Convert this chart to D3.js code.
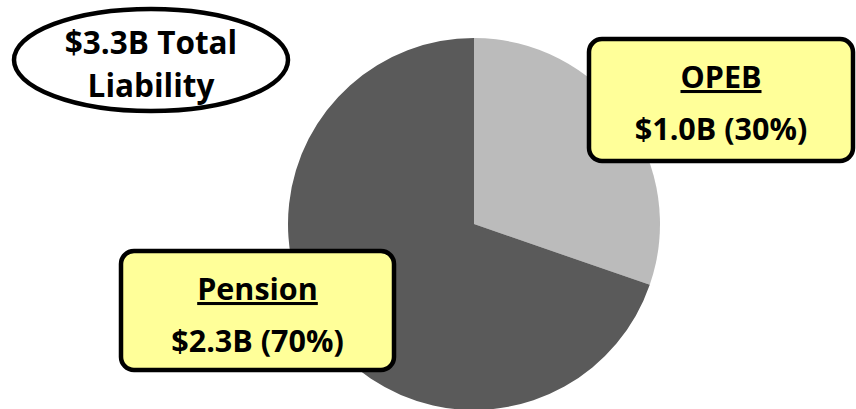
<!DOCTYPE html>
<html>
<head>
<meta charset="utf-8">
<script src="https://cdn.jsdelivr.net/npm/d3@7/dist/d3.min.js"></script>
<style>
  html, body { margin: 0; padding: 0; background: #ffffff; }
  svg { display: block; }
  text { font-family: "Open Sans", "Noto Sans", sans-serif; font-weight: 700; fill: #000; }
</style>
</head>
<body>
<script>
// Liability breakdown, $ billions
const categories = ["OPEB", "Pension"];
const values = [1.0, 2.3];
const shares = ["30%", "70%"];
const totalLabel = ["$3.3B Total", "Liability"];
const sliceColors = ["#bbbbbb", "#5a5a5a"];

const width = 856, height = 409;
const svg = d3.select("body").append("svg")
  .attr("width", width).attr("height", height);

// Pie
const cx = 474, cy = 224, r = 186;
const pie = d3.pie().sort(null).value(d => d.value);
const arc = d3.arc().innerRadius(0).outerRadius(r);
const data = categories.map((c, i) => ({ name: c, value: values[i], share: shares[i] }));

svg.append("g")
  .attr("transform", `translate(${cx},${cy})`)
  .selectAll("path")
  .data(pie(data))
  .join("path")
  .attr("d", arc)
  .attr("fill", (d, i) => sliceColors[i]);

// Callout boxes
const boxes = [
  { idx: 0, x: 589, y: 39, w: 264, h: 122 },
  { idx: 1, x: 121, y: 251, w: 273, h: 119 }
];
const fmt = v => "$" + d3.format(".1f")(v) + "B";

boxes.forEach(b => {
  const d = data[b.idx];
  const g = svg.append("g").attr("transform", `translate(${b.x},${b.y})`);
  g.append("rect")
    .attr("width", b.w).attr("height", b.h)
    .attr("rx", 13).attr("ry", 13)
    .attr("fill", "#ffff99")
    .attr("stroke", "#000").attr("stroke-width", 4.5);
  g.append("text")
    .attr("x", b.w / 2).attr("y", 49)
    .attr("text-anchor", "middle")
    .attr("font-size", 30.5)
    .style("text-decoration", "underline")
    .text(d.name);
  g.append("text")
    .attr("x", b.w / 2).attr("y", 101)
    .attr("text-anchor", "middle")
    .attr("font-size", 30.5)
    .text(`${fmt(d.value)} (${d.share})`);
});

// Total badge: one two-line label
const badge = svg.append("g").attr("transform", "translate(151,60)");
badge.append("ellipse")
  .attr("rx", 137).attr("ry", 51)
  .attr("fill", "#ffffff")
  .attr("stroke", "#000").attr("stroke-width", 4.5);
badge.append("text")
  .attr("text-anchor", "middle")
  .attr("font-size", 31.5)
  .selectAll("tspan")
  .data(totalLabel)
  .join("tspan")
  .attr("x", 0)
  .attr("y", (d, i) => -6.5 + i * 43)
  .text(d => d);
</script>
</body>
</html>
